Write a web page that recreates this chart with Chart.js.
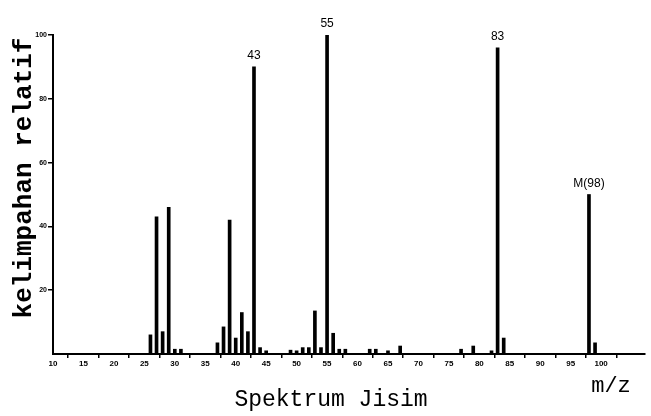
<!DOCTYPE html>
<html>
<head>
<meta charset="utf-8">
<script src="https://cdn.jsdelivr.net/npm/chart.js@4"></script>
<style>
  html, body { margin: 0; padding: 0; background: #fff; }
  #wrap { width: 651px; height: 416px; position: relative; }
</style>
</head>
<body>
<div id="wrap"><canvas id="myChart"></canvas></div>
<script>
// m/z values and relative abundance
const massCharge = [26, 27, 28, 29, 30, 31, 37, 38, 39, 40, 41, 42, 43, 44, 45,
    49, 50, 51, 52, 53, 54, 55, 56, 57, 58, 62, 63, 65, 67, 77, 79, 82, 83, 84, 98, 99];
const abundance = [6, 43, 7, 46, 1.5, 1.5, 3.5, 8.5, 42, 5, 13, 7, 90, 2, 1,
    1.2, 1, 2, 2, 13.5, 2, 100, 6.5, 1.5, 1.5, 1.5, 1.5, 1, 2.5, 1.5, 2.5, 1, 96, 5, 50, 3.5];
const xTicks = [10, 15, 20, 25, 30, 35, 40, 45, 50, 55, 60, 65, 70, 75, 80, 85, 90, 95, 100];
const yTicks = [20, 40, 60, 80, 100];
const peakLabels = { 43: '43', 55: '55', 83: '83', 98: 'M(98)' };

const points = massCharge.map((m, i) => ({ x: m, y: abundance[i] }));

const textPlugin = {
    id: 'texts',
    afterDatasetsDraw(chart) {
        const c = chart.ctx;
        const xs = chart.scales.x, ys = chart.scales.y;
        c.save();
        c.fillStyle = '#000';
        // labels over the main peaks
        c.font = '12px "Liberation Sans", Arial, sans-serif';
        c.textAlign = 'center';
        c.textBaseline = 'alphabetic';
        for (const m in peakLabels) {
            const i = massCharge.indexOf(Number(m));
            c.fillText(peakLabels[m], xs.getPixelForValue(Number(m)), ys.getPixelForValue(abundance[i]) - 8);
        }
        // axis titles
        c.font = 'bold 26px "Liberation Mono", monospace';
        c.save();
        c.translate(24, 178);
        c.rotate(-Math.PI / 2);
        c.textBaseline = 'middle';
        c.fillText('kelimpahan relatif', 0, 0);
        c.restore();
        c.font = '23px "Liberation Mono", monospace';
        c.textBaseline = 'alphabetic';
        c.fillText('Spektrum Jisim', 331, 406);
        c.font = '22px "Liberation Mono", monospace';
        c.fillText('m/z', 611, 392);
        c.restore();
    }
};

const ctx = document.getElementById('myChart');
const myChart = new Chart(ctx, {
    type: 'bar',
    data: {
        datasets: [{
            data: points,
            backgroundColor: '#000',
            borderWidth: 0,
            barThickness: 3
        }]
    },
    options: {
        responsive: true,
        maintainAspectRatio: false,
        animation: false,
        layout: { padding: { left: 0, right: 6, top: 35, bottom: 0 } },
        plugins: { legend: { display: false }, tooltip: { enabled: false } },
        scales: {
            x: {
                type: 'linear',
                offset: false,
                min: 10,
                max: 107.2,
                afterBuildTicks: (scale) => { scale.ticks = xTicks.map(v => ({ value: v })); },
                afterFit: (scale) => { scale.height = 62; },
                border: { color: '#000', width: 2 },
                grid: { display: true, drawOnChartArea: false, drawTicks: true, tickLength: 4, color: '#000', lineWidth: 1.5 },
                ticks: {
                    color: '#000',
                    padding: 1,
                    maxRotation: 0,
                    autoSkip: false,
                    font: { family: '"Liberation Sans", Arial', size: 8, weight: 'bold' }
                }
            },
            y: {
                min: 0,
                max: 100,
                afterBuildTicks: (scale) => { scale.ticks = yTicks.map(v => ({ value: v })); },
                afterFit: (scale) => { scale.width = 53; },
                border: { color: '#000', width: 2 },
                grid: { display: true, drawOnChartArea: false, drawTicks: true, tickLength: 5, color: '#000', lineWidth: 1.5 },
                ticks: {
                    color: '#000',
                    padding: 1,
                    font: { family: '"Liberation Sans", Arial', size: 7, weight: 'bold' }
                }
            }
        }
    },
    plugins: [textPlugin]
});
</script>
</body>
</html>
